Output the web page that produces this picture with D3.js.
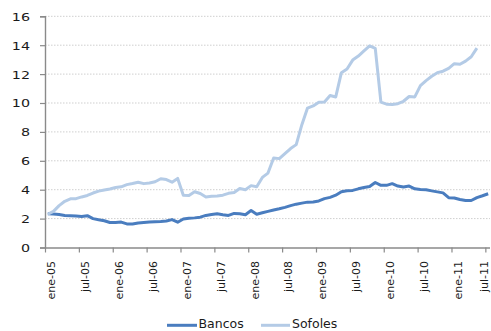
<!DOCTYPE html>
<html>
<head>
<meta charset="utf-8">
<script src="https://cdn.jsdelivr.net/npm/d3@7"></script>
<style>
  html, body { margin: 0; padding: 0; background: #fff; }
  svg { display: block; }
  text { font-family: "DejaVu Sans", sans-serif; fill: #1a1a1a; }
</style>
</head>
<body>
<svg id="chart" width="491" height="331"></svg>
<script>
// Monthly series, January 2005 onward (percent)
const bancos = [
  2.33, 2.32, 2.28, 2.22, 2.20, 2.18, 2.14, 2.20, 2.00, 1.92,
  1.85, 1.73, 1.73, 1.76, 1.63, 1.63, 1.70, 1.73, 1.76, 1.78,
  1.80, 1.83, 1.93, 1.75, 1.97, 2.02, 2.05, 2.10, 2.22, 2.28,
  2.33, 2.27, 2.22, 2.36, 2.33, 2.27, 2.56, 2.30, 2.40, 2.50,
  2.60, 2.68, 2.78, 2.90, 3.00, 3.07, 3.14, 3.15, 3.22, 3.38,
  3.47, 3.62, 3.86, 3.92, 3.95, 4.06, 4.15, 4.22, 4.50, 4.30,
  4.30, 4.42, 4.25, 4.18, 4.25, 4.06, 4.02, 4.00, 3.92, 3.85,
  3.78, 3.45, 3.43, 3.32, 3.25, 3.25, 3.45, 3.58, 3.72
];
const sofoles = [
  2.30, 2.50, 2.90, 3.20, 3.37, 3.38, 3.50, 3.60, 3.77, 3.90,
  3.98, 4.05, 4.15, 4.20, 4.35, 4.43, 4.52, 4.42, 4.46, 4.55,
  4.76, 4.70, 4.52, 4.78, 3.62, 3.60, 3.86, 3.74, 3.50, 3.55,
  3.57, 3.62, 3.75, 3.80, 4.08, 4.00, 4.28, 4.20, 4.85, 5.15,
  6.20, 6.15, 6.50, 6.85, 7.12, 8.50, 9.65, 9.80, 10.06, 10.07,
  10.52, 10.42, 12.10, 12.35, 12.97, 13.25, 13.60, 13.95, 13.78, 10.06,
  9.92, 9.90, 9.95, 10.12, 10.45, 10.42, 11.20, 11.55, 11.85, 12.10,
  12.20, 12.40, 12.72, 12.68, 12.90, 13.20, 13.80
];
const tickLabels = [
  "ene-05", "jul-05", "ene-06", "jul-06", "ene-07", "jul-07", "ene-08",
  "jul-08", "ene-09", "jul-09", "ene-10", "jul-10", "ene-11", "jul-11"
];
const yTicks = [0, 2, 4, 6, 8, 10, 12, 14, 16];
const seriesNames = ["Bancos", "Sofoles"];
const seriesColors = ["#4a7dbf", "#b4cbe6"];

const nMonths = 79; // ene-05 .. jul-11

const svg = d3.select("#chart");
const plotLeft = 45, plotRight = 491, plotTop = 16.3, plotBottom = 247.5;

const x = d3.scaleLinear().domain([0, nMonths]).range([plotLeft, plotRight]);
const y = d3.scaleLinear().domain([0, 16]).range([plotBottom, plotTop]);

// Dotted horizontal gridlines
svg.append("g")
  .selectAll("line")
  .data(yTicks.filter(d => d > 0))
  .join("line")
  .attr("x1", plotLeft).attr("x2", plotRight - 1)
  .attr("y1", d => y(d)).attr("y2", d => y(d))
  .attr("stroke", "#cfcfcf")
  .attr("stroke-width", 1)
  .attr("stroke-dasharray", "1.5,1.5");

// Y axis
const yAxis = svg.append("g")
  .attr("transform", `translate(${plotLeft},0)`)
  .call(d3.axisLeft(y).tickValues(yTicks).tickSize(5).tickFormat(d3.format("d")));
yAxis.select(".domain").attr("stroke", "#8a8a8a").attr("stroke-width", 1.4);
yAxis.selectAll(".tick line").attr("stroke", "#8a8a8a").attr("stroke-width", 1.2);
yAxis.selectAll(".tick text")
  .attr("x", 0)
  .attr("dy", "0.36em")
  .attr("transform", "translate(-15,0) scale(1.3,1)")
  .style("font-family", "DejaVu Sans")
  .style("font-size", "11px")
  .attr("fill", "#1a1a1a");

// X axis: tick every six months, labels rotated
const tickIdx = d3.range(0, nMonths, 6);
const xAxis = svg.append("g")
  .attr("transform", `translate(0,${plotBottom})`)
  .call(d3.axisBottom(x).tickValues(tickIdx).tickSize(5)
    .tickFormat((d, i) => tickLabels[i]));
xAxis.select(".domain").attr("stroke", "#8a8a8a").attr("stroke-width", 1.4)
  .attr("d", `M${plotLeft},0.5H${plotRight - 1}`);
xAxis.selectAll(".tick line").attr("stroke", "#8a8a8a").attr("stroke-width", 1.2);
xAxis.selectAll(".tick text")
  .attr("x", 0).attr("y", 0)
  .attr("dy", "0.35em")
  .attr("text-anchor", "end")
  // the last label sits at the right edge, so pull it in slightly
  .attr("transform", (d, i) => `translate(${i === tickIdx.length - 1 ? -1.5 : 6},13.5) rotate(-90)`)
  .style("font-family", "DejaVu Sans")
  .style("font-size", "11px")
  .attr("fill", "#1a1a1a");

// Series lines (points centred in each monthly slot)
const line = d3.line()
  .x((d, i) => x(i + 0.5))
  .y(d => y(d));

[bancos, sofoles].forEach((vals, k) => {
  svg.append("path")
    .datum(vals)
    .attr("fill", "none")
    .attr("stroke", seriesColors[k])
    .attr("stroke-width", 3)
    .attr("stroke-linejoin", "round")
    .attr("d", line);
});

// Legend
const legendItems = [
  { x1: 167, x2: 197, tx: 198.5 },
  { x1: 261, x2: 290, tx: 292 }
];
const legend = svg.append("g");
legendItems.forEach((it, k) => {
  legend.append("line")
    .attr("x1", it.x1).attr("x2", it.x2)
    .attr("y1", 325.3).attr("y2", 325.3)
    .attr("stroke", seriesColors[k])
    .attr("stroke-width", 3);
  legend.append("text")
    .attr("x", it.tx).attr("y", 328)
    .style("font-size", "12.5px")
    .text(seriesNames[k]);
});
</script>
</body>
</html>
